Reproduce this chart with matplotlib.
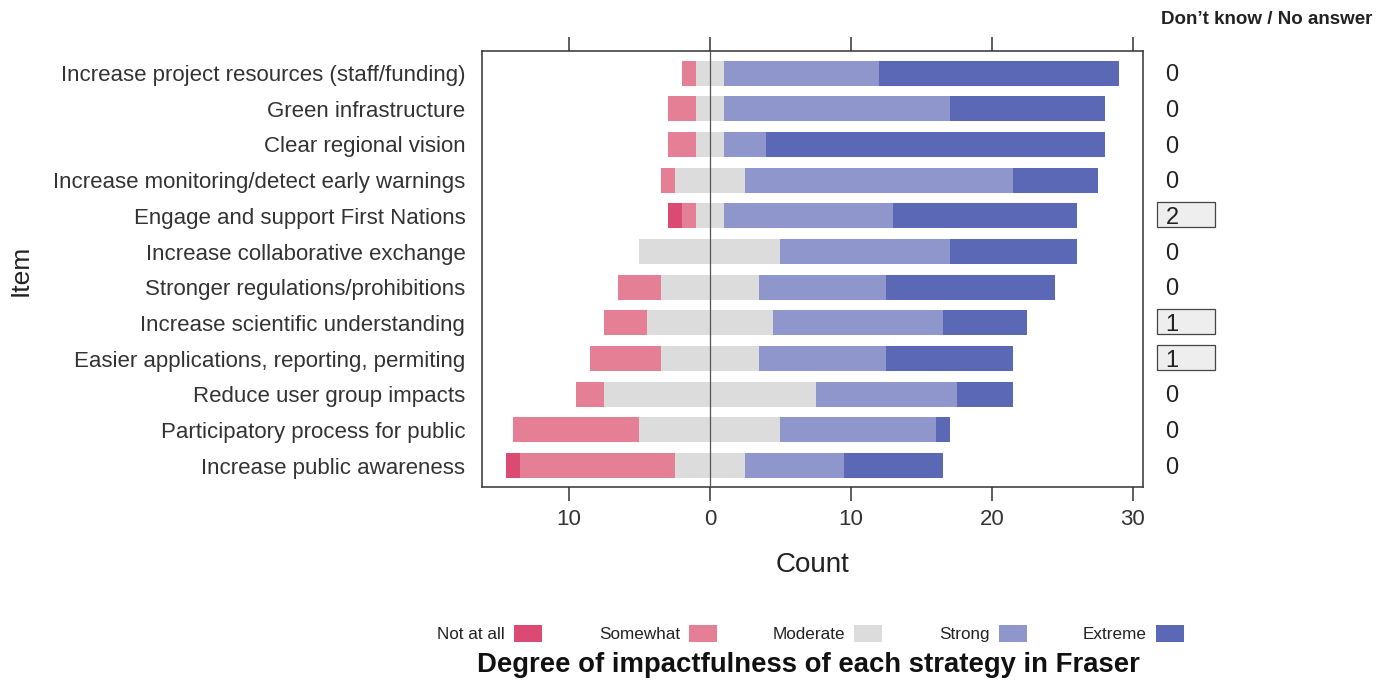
import matplotlib
matplotlib.use("Agg")
import matplotlib.pyplot as plt
from matplotlib.patches import Rectangle
import numpy as np

plt.rcParams["font.family"] = ["Liberation Sans", "DejaVu Sans"]

items = [
    "Increase project resources (staff/funding)",
    "Green infrastructure",
    "Clear regional vision",
    "Increase monitoring/detect early warnings",
    "Engage and support First Nations",
    "Increase collaborative exchange",
    "Stronger regulations/prohibitions",
    "Increase scientific understanding",
    "Easier applications, reporting, permiting",
    "Reduce user group impacts",
    "Participatory process for public",
    "Increase public awareness",
]
levels = ["Not at all", "Somewhat", "Moderate", "Strong", "Extreme"]
not_at_all = [0, 0, 0, 0, 1, 0, 0, 0, 0, 0, 0, 1]
somewhat = [1, 2, 2, 1, 1, 0, 3, 3, 5, 2, 9, 11]
moderate = [2, 2, 2, 5, 2, 10, 7, 9, 7, 15, 10, 5]
strong = [11, 16, 3, 19, 12, 12, 9, 12, 9, 10, 11, 7]
extreme = [17, 11, 24, 6, 13, 9, 12, 6, 9, 4, 1, 7]
dont_know = [0, 0, 0, 0, 2, 0, 0, 1, 1, 0, 0, 0]

colors = ["#DA4A72", "#E47F96", "#DCDCDC", "#8F96CC", "#5B68B6"]

counts = np.array([not_at_all, somewhat, moderate, strong, extreme], dtype=float)
y = np.arange(len(items))

fig = plt.figure(figsize=(13.91, 6.81), dpi=100)
ax = fig.add_axes([0.3465, 0.2849, 0.4752, 0.6402])

# diverging: moderate split across zero
left = -(counts[0] + counts[1] + counts[2] / 2)
for i, vals in enumerate(counts):
    ax.barh(y, vals, left=left, height=0.7, color=colors[i], linewidth=0)
    left = left + vals

ax.axvline(0, color="#555555", linewidth=0.9, zorder=3)

xmax = 30.71
ax.set_xlim(-16.17, xmax)
ax.set_ylim(11.6, -0.62)
ticks = [-10, 0, 10, 20, 30]
ax.set_xticks(ticks)
ax.set_xticklabels([str(abs(t)) for t in ticks])
ax.tick_params(axis="x", which="both", top=True, labeltop=False, direction="out",
               length=10, width=1.1, labelsize=16, colors="#333333", pad=6)
ax.set_yticks(y)
ax.set_yticklabels(items)
ax.tick_params(axis="y", length=0, labelsize=16, colors="#333333", pad=12)
for sp in ax.spines.values():
    sp.set_color("#333333")
    sp.set_linewidth(1.1)

ax.set_xlabel("Count", fontsize=20, color="#222222", labelpad=16)
fig.text(21 / 1391, 1 - 270 / 681, "Item", rotation=90, ha="center", va="center",
         fontsize=19, color="#222222")

# don't know column
fig.text(1372 / 1391, 1 - 20 / 681, "Don\u2019t know / No answer", ha="right", va="center",
         fontsize=13.5, fontweight="bold", color="#222222")
for yi, v in zip(y, dont_know):
    if v > 0:
        ax.add_patch(Rectangle((31.7, yi - 0.38), 4.1, 0.7,
                               fc="#EEEEEE", ec="#444444", lw=0.9,
                               clip_on=False, zorder=1))
    ax.text(32.3, yi + 0.06, str(v), ha="left", va="center", fontsize=17,
            color="#222222", clip_on=False, zorder=2)

# legend
label_right = [505, 680, 845, 990, 1147]
for lab, col, xr in zip(levels, colors, label_right):
    fig.text(xr / 1391, 1 - 639 / 681, lab, ha="right", va="baseline",
             fontsize=12.3, color="#222222")
    fig.patches.append(Rectangle(((xr + 9) / 1391, 1 - 642 / 681), 28 / 1391, 17 / 681,
                                 transform=fig.transFigure, fc=col, ec="none"))

fig.text(808 / 1391, 1 - 665 / 681, "Degree of impactfulness of each strategy in Fraser",
         ha="center", va="center", fontsize=19.8, fontweight="bold", color="#111111")

fig.savefig("out.png", dpi=100)
